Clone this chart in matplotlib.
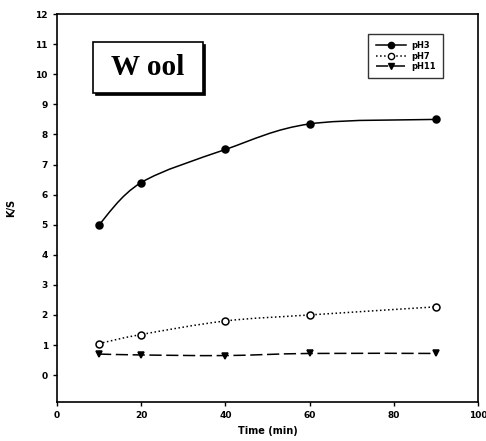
import numpy as np
import matplotlib
matplotlib.use("Agg")
import matplotlib.pyplot as plt
from matplotlib.path import Path
from matplotlib.patches import PathPatch, Rectangle

# dyeing time (min) and colour strength K/S at three pH values
time_min = [10, 20, 40, 60, 90]
ks_ph3 = [5.0, 6.4, 7.5, 8.35, 8.5]
ks_ph7 = [1.05, 1.35, 1.8, 2.0, 2.27]
ks_ph11 = [0.7, 0.67, 0.65, 0.72, 0.72]
x_ticks = [0, 20, 40, 60, 80, 100]
y_ticks = list(range(0, 13))


def smooth_path(x, y):
    """catmull-rom curve through the points, as cubic bezier segments"""
    x = np.asarray(x, float)
    y = np.asarray(y, float)
    pts = np.column_stack([x, y])
    verts = [pts[0]]
    codes = [Path.MOVETO]
    n = len(pts)
    for i in range(n - 1):
        p0 = pts[max(i - 1, 0)]
        p1 = pts[i]
        p2 = pts[i + 1]
        p3 = pts[min(i + 2, n - 1)]
        c1 = p1 + (p2 - p0) / 6.0
        c2 = p2 - (p3 - p1) / 6.0
        verts += [c1, c2, p2]
        codes += [Path.CURVE4] * 3
    return Path(verts, codes)


fig = plt.figure(figsize=(4.86, 4.41), dpi=100)
ax = fig.add_axes([0.117, 0.088, 0.867, 0.88])

series = [
    (ks_ph3, "pH3", "o", "black", "-"),
    (ks_ph7, "pH7", "o", "white", ":"),
    (ks_ph11, "pH11", "v", "black", (0, (8, 3))),
]
for ks, name, mk, face, ls in series:
    ax.add_patch(PathPatch(smooth_path(time_min, ks), fill=False,
                           edgecolor="black", lw=1.1, linestyle=ls))
    ax.plot(time_min, ks, linestyle="none", marker=mk, markersize=5,
            markerfacecolor=face, markeredgecolor="black", markeredgewidth=1.1)
    # proxy handle for the legend
    ax.plot([], [], linestyle=ls, color="black", lw=1.1, marker=mk,
            markersize=4.5, markerfacecolor=face, markeredgecolor="black",
            label=name)

ax.set_xlim(0, 100)
ax.set_ylim(-0.9, 12)
ax.set_xticks(x_ticks)
ax.set_yticks(y_ticks)
ax.tick_params(direction="out", length=3, width=1, labelsize=6.5)
for lab in ax.get_xticklabels() + ax.get_yticklabels():
    lab.set_fontweight("bold")
for sp in ax.spines.values():
    sp.set_linewidth(1.2)

ax.set_xlabel("Time (min)", fontsize=7, fontweight="bold", labelpad=4)
ax.set_ylabel("K/S", fontsize=7, fontweight="bold", labelpad=14)

leg = ax.legend(loc="upper right", bbox_to_anchor=(0.926, 0.96),
                prop={"weight": "bold", "size": 6},
                frameon=True, fancybox=False, edgecolor="black",
                handlelength=3.6, borderpad=0.9, labelspacing=0.15,
                handletextpad=0.6)
leg.get_frame().set_linewidth(1.0)

# title box with a thin drop shadow on the right and bottom
bx, by, bw, bh = 0.085, 0.797, 0.263, 0.13
ax.add_patch(Rectangle((bx + 0.0045, by - 0.005), bw, bh, transform=ax.transAxes,
                       facecolor="black", edgecolor="black", lw=0.5, zorder=4))
ax.add_patch(Rectangle((bx, by), bw, bh, transform=ax.transAxes,
                       facecolor="white", edgecolor="black", lw=1.2, zorder=5))
ax.text(bx + bw / 2, by + bh / 2, "W ool", transform=ax.transAxes,
        ha="center", va="center", fontsize=21, fontweight="bold",
        family="Liberation Serif", zorder=6)

fig.savefig("out.png", dpi=100)
